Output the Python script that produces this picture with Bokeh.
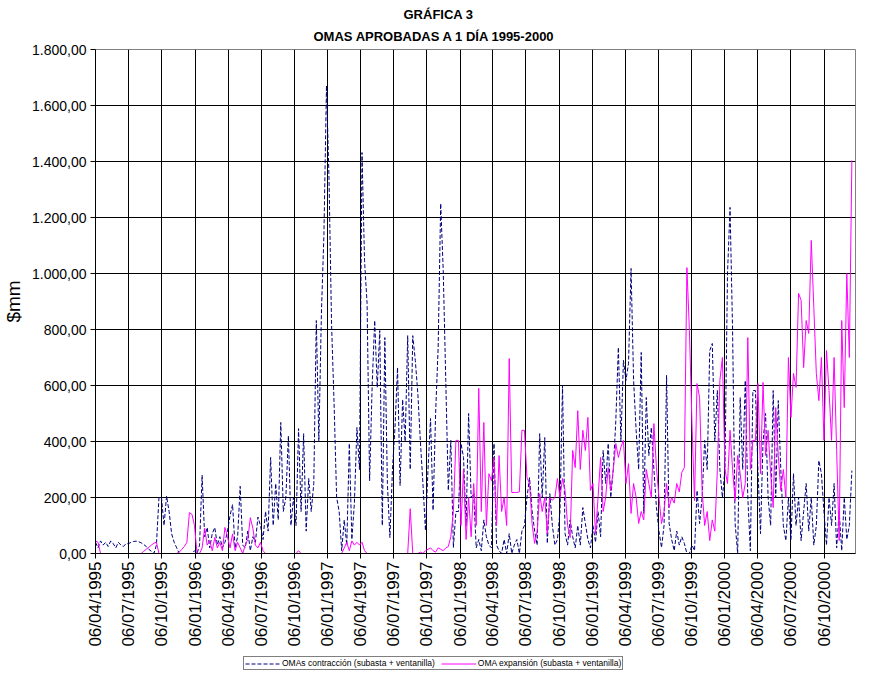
import pandas as pd
from bokeh.plotting import figure
from bokeh.layouts import column
from bokeh.models import (FixedTicker, DatetimeTickFormatter, Range1d, Title,
                          Legend, LegendItem)
from bokeh.embed import file_html
from bokeh.resources import INLINE

# ---------------- data (weekly readings, $mm) ----------------
first_date = "1995-04-06"

contr_1995 = [40, 20, 45, 30, 40, 25, 45, 35, 20, 40, 30, 25, 35,
              35, 40, 43, 44, 42, 38, 32, 25, 15, 8, 0, 30, 200,
              200, 100, 205, 150, 70, 40, 20, 0, 0, 0, 0, 0, 0]
contr_1996 = [10, 0, 30, 280, 60, 93, 20, 71, 93, 30, 60, 20, 40,
              80, 135, 175, 20, 60, 240, 30, 20, 80, 10, 60, 40, 130,
              100, 50, 150, 80, 343, 100, 250, 120, 468, 150, 200, 421, 100,
              200, 100, 446, 150, 428, 80, 268, 150, 250, 832, 400, 857, 1140]
contr_1997 = [1671, 1340, 820, 535, 200, 150, 10, 120, 30, 393, 50, 180, 450,
              300, 1432, 1046, 893, 260, 600, 832, 593, 796, 100, 771, 250, 57,
              300, 450, 664, 243, 550, 400, 778, 300, 778, 689, 571, 400, 250,
              82, 300, 482, 154, 500, 736, 1250, 1011, 618, 225, 404, 21, 150]
contr_1998 = [150, 393, 343, 100, 500, 200, 214, 20, 50, 10, 120, 60, 30,
              20, 393, 30, 10, 0, 50, 0, 71, 0, 30, 50, 0, 80,
              100, 200, 271, 154, 80, 30, 428, 200, 414, 36, 214, 100, 30,
              50, 150, 600, 71, 30, 120, 60, 20, 100, 30, 164, 107, 50]
contr_1999 = [20, 100, 40, 150, 60, 368, 250, 393, 200, 300, 475, 736, 400,
              690, 618, 679, 1018, 620, 440, 300, 718, 143, 557, 350, 450, 300,
              164, 80, 21, 100, 636, 107, 50, 10, 80, 30, 60, 36, 0,
              0, 30, 10, 225, 107, 200, 404, 300, 725, 750, 400, 582, 300]
contr_2000 = [200, 300, 1000, 1236, 796, 107, 0, 557, 300, 618, 200, 10, 582,
              582, 300, 71, 400, 500, 200, 100, 582, 200, 546, 300, 100, 46,
              200, 50, 285, 100, 200, 46, 150, 250, 80, 200, 30, 100, 332,
              285, 150, 30, 200, 100, 250, 20, 150, 10, 200, 50, 100, 296]

expan_1995 = [45, 40, 0, 0, 0, 0, 0, 0, 0, 0, 0, 0, 0,
              0, 0, 0, 0, 0, 0, 8, 15, 22, 30, 37, 40, 0,
              0, 0, 0, 0, 0, 0, 0, 5, 15, 25, 40, 146, 140]
expan_1996 = [100, 0, 0, 20, 90, 30, 46, 10, 57, 20, 40, 10, 93,
              60, 20, 70, 10, 40, 20, 0, 30, 50, 128, 90, 30, 20,
              40, 10, 0, 0, 0, 0, 0, 0, 0, 0, 0, 0, 0,
              0, 0, 10, 0, 0, 0, 0, 0, 0, 0, 0, 0, 0]
expan_1997 = [0, 0, 0, 0, 0, 0, 0, 20, 40, 10, 45, 30, 40,
              30, 40, 10, 0, 0, 0, 0, 0, 0, 0, 0, 0, 0,
              0, 0, 0, 0, 0, 0, 0, 160, 0, 0, 0, 5, 0,
              10, 15, 20, 10, 5, 20, 15, 10, 20, 25, 60, 150, 404]
expan_1998 = [404, 100, 300, 50, 200, 60, 250, 100, 590, 150, 468, 100, 285,
              260, 343, 100, 350, 150, 200, 100, 696, 218, 218, 218, 220, 440,
              440, 271, 250, 107, 36, 80, 214, 150, 200, 71, 200, 190, 200,
              268, 200, 268, 225, 100, 57, 368, 307, 510, 300, 440, 368, 486]
expan_1999 = [225, 250, 71, 200, 343, 150, 200, 307, 225, 300, 393, 343, 380,
              404, 250, 321, 143, 250, 200, 107, 150, 120, 300, 250, 200, 464,
              307, 200, 107, 150, 250, 164, 200, 180, 250, 220, 290, 307, 1021,
              796, 464, 189, 607, 557, 225, 100, 150, 46, 120, 80, 300, 618]
expan_2000 = [700, 300, 250, 440, 300, 189, 350, 285, 200, 250, 771, 300, 404,
              404, 607, 285, 611, 350, 440, 285, 164, 521, 350, 225, 300, 200,
              700, 486, 643, 593, 929, 904, 664, 832, 786, 1118, 879, 643, 546,
              700, 404, 725, 582, 404, 700, 368, 46, 832, 521, 1000, 700, 1404]

x_tick_labels = ["06/04/1995", "06/07/1995", "06/10/1995", "06/01/1996", "06/04/1996",
                 "06/07/1996", "06/10/1996", "06/01/1997", "06/04/1997", "06/07/1997",
                 "06/10/1997", "06/01/1998", "06/04/1998", "06/07/1998", "06/10/1998",
                 "06/01/1999", "06/04/1999", "06/07/1999", "06/10/1999", "06/01/2000",
                 "06/04/2000", "06/07/2000", "06/10/2000"]
y_ticks = [0, 200, 400, 600, 800, 1000, 1200, 1400, 1600, 1800]
y_tick_labels = ["0,00", "200,00", "400,00", "600,00", "800,00", "1.000,00",
                 "1.200,00", "1.400,00", "1.600,00", "1.800,00"]

series_contr = "OMAs contracción (subasta + ventanilla)"
series_expan = "OMA expansión (subasta + ventanilla)"
title_1 = "GRÁFICA 3"
title_2 = "OMAS APROBADAS A 1 DÍA 1995-2000"
y_label = "$mm"
x_end = "2000-12-31"

contr = contr_1995 + contr_1996 + contr_1997 + contr_1998 + contr_1999 + contr_2000
expan = expan_1995 + expan_1996 + expan_1997 + expan_1998 + expan_1999 + expan_2000
dates = pd.date_range(first_date, periods=len(contr), freq="7D")

FONT = "Liberation Sans"
CONTR_STYLE = dict(line_color="#000080", line_width=1, line_dash="4 2")
EXPAN_STYLE = dict(line_color="#FF00FF", line_width=1)

p = figure(frame_width=760, frame_height=504, x_axis_type="datetime",
           output_backend="svg", toolbar_location=None,
           x_range=Range1d(pd.Timestamp(first_date), pd.Timestamp(x_end)),
           y_range=Range1d(0, 1800),
           min_border_left=0, min_border_right=11, min_border_top=0,
           min_border_bottom=0)
p.background_fill_color = "white"
p.border_fill_color = "white"
p.outline_line_color = "#808080"

p.add_layout(Title(text=title_2, align="left", offset=218, text_font=FONT,
                   text_font_size="13px", text_font_style="bold",
                   text_color="black", standoff=11), "above")
p.add_layout(Title(text=title_1, align="left", offset=308, text_font=FONT,
                   text_font_size="13px", text_font_style="bold",
                   text_color="black", standoff=0), "above")
p.add_layout(Title(text=" ", text_font_size="2px", standoff=0), "above")

p.line(dates, contr, **CONTR_STYLE)
p.line(dates, expan, **EXPAN_STYLE)

tick_ms = [pd.to_datetime(t, format="%d/%m/%Y").value // 10**6 for t in x_tick_labels]
p.xaxis.ticker = FixedTicker(ticks=tick_ms)
fmt = "%d/%m/%Y"
p.xaxis.formatter = DatetimeTickFormatter(days=fmt, months=fmt, years=fmt,
                                          hours=fmt, minutes=fmt, seconds=fmt,
                                          milliseconds=fmt, microseconds=fmt,
                                          minsec=fmt, hourmin=fmt)
p.xaxis.major_label_orientation = 3.14159265 / 2
p.xaxis.major_label_text_font = FONT
p.xaxis.major_label_text_font_size = "17px"
p.xaxis.major_label_text_color = "black"
p.xaxis.major_label_standoff = 3
p.xaxis.major_tick_out = 5
p.xaxis.major_tick_in = 0
p.xaxis.minor_tick_line_color = None
p.xaxis.axis_line_color = "black"
p.xaxis.major_tick_line_color = "black"

p.yaxis.ticker = FixedTicker(ticks=y_ticks)
p.yaxis.major_label_overrides = {t: l for t, l in zip(y_ticks, y_tick_labels)}
p.yaxis.major_label_text_font = FONT
p.yaxis.major_label_text_font_size = "14px"
p.yaxis.major_label_text_color = "black"
p.yaxis.major_label_standoff = 4
p.yaxis.major_tick_out = 5
p.yaxis.major_tick_in = 0
p.yaxis.minor_tick_line_color = None
p.yaxis.axis_line_color = "black"
p.yaxis.major_tick_line_color = "black"
p.yaxis.axis_label = y_label
p.yaxis.axis_label_text_font = FONT
p.yaxis.axis_label_text_font_size = "19px"
p.yaxis.axis_label_text_font_style = "normal"
p.yaxis.axis_label_text_color = "black"
p.yaxis.axis_label_standoff = 5

p.xgrid.grid_line_color = "black"
p.xgrid.grid_line_alpha = 1
p.ygrid.grid_line_color = "black"
p.ygrid.grid_line_alpha = 1

# legend strip below the chart (its frame is aligned with the chart frame)
lf = figure(width=860, height=24, output_backend="svg", toolbar_location=None,
            x_range=Range1d(0, 1), y_range=Range1d(0, 1), min_border=0)
lf.axis.visible = False
lf.grid.visible = False
lf.outline_line_color = None
lf.background_fill_color = "white"
lf.border_fill_color = "white"
g1 = lf.line([5, 6], [5, 6], **CONTR_STYLE)   # off-range, legend glyph only
g2 = lf.line([5, 6], [5, 6], **EXPAN_STYLE)
legend = Legend(items=[LegendItem(label=series_contr, renderers=[g1]),
                       LegendItem(label=series_expan, renderers=[g2])],
                orientation="horizontal", location=(148, 3),
                label_text_font=FONT, label_text_font_size="8.5px",
                label_text_color="black", glyph_width=35, glyph_height=9,
                label_standoff=2, spacing=6, padding=1, margin=0,
                border_line_color="black", border_line_width=1,
                background_fill_color="white", background_fill_alpha=1,
                label_height=9)
lf.add_layout(legend, "center")

open("out.html", "w").write(file_html(column(p, lf), INLINE))
